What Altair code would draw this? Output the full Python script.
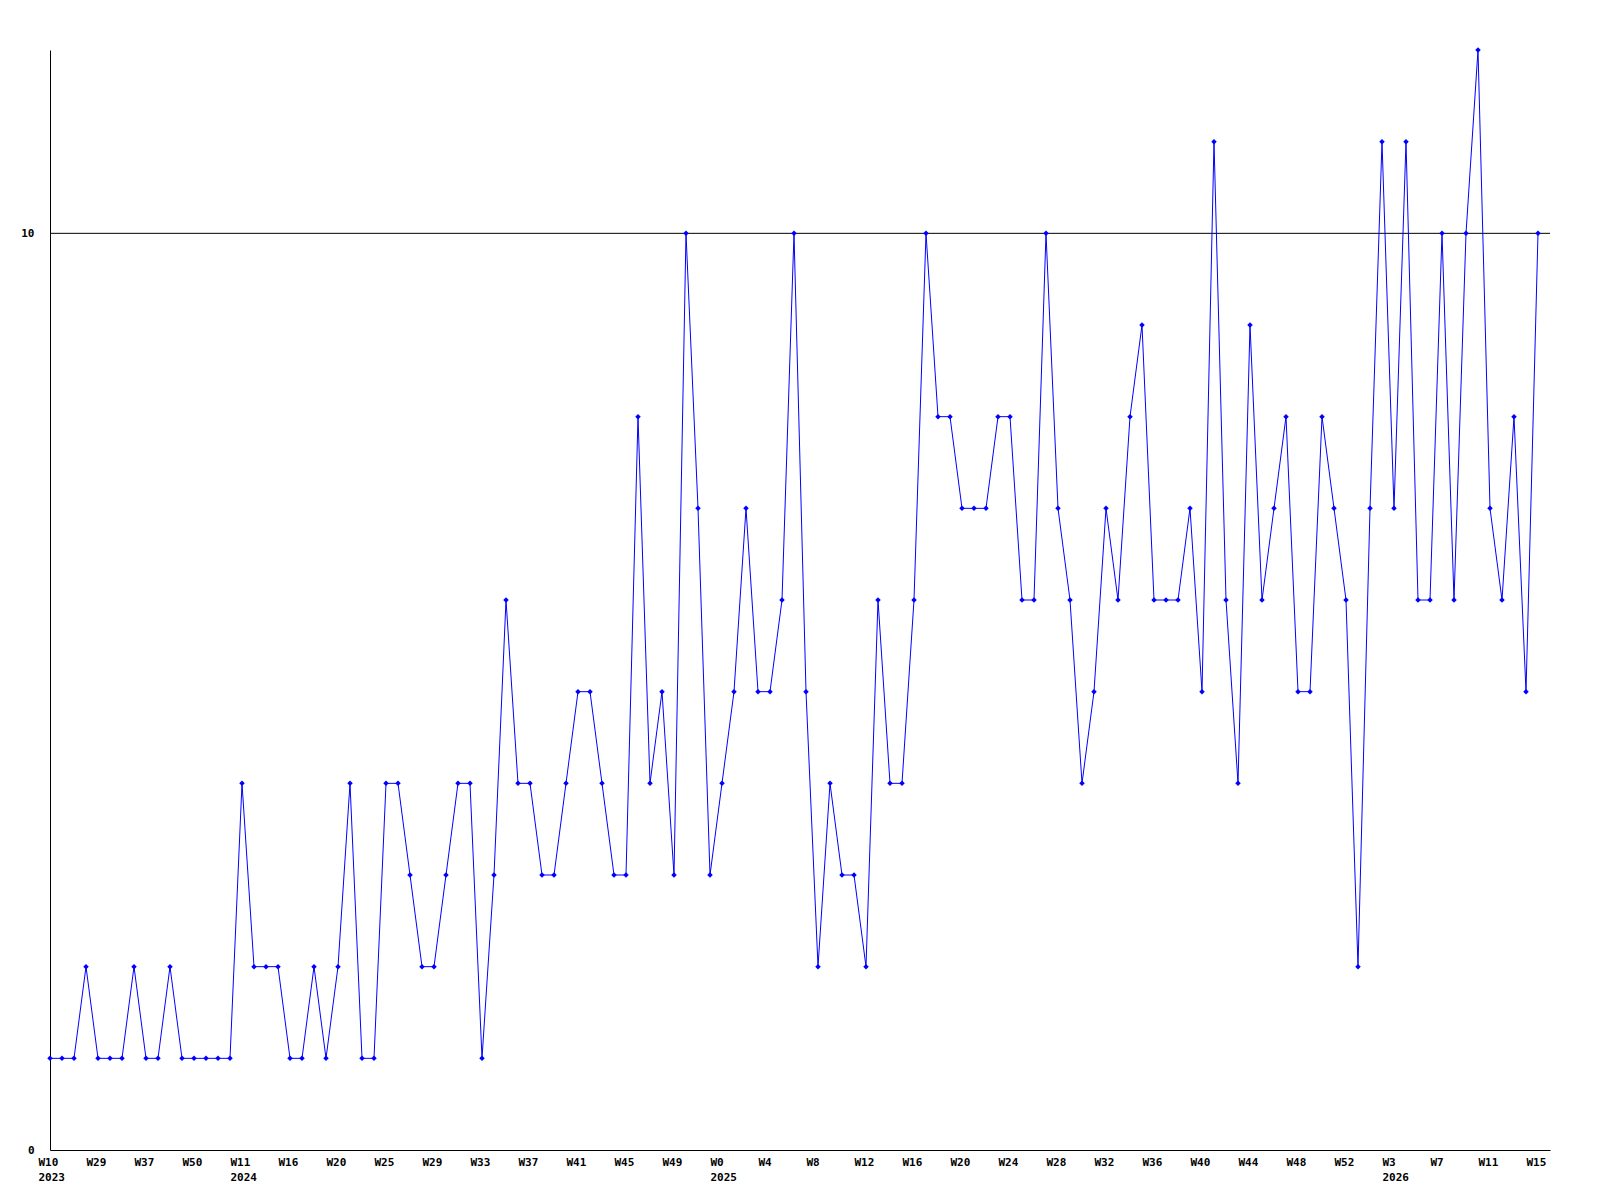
import json
import altair as alt
import pandas as pd

# Weekly values (one per plotted week, in order)
values = [
    1, 1, 1, 2, 1, 1, 1, 2, 1, 1,
    2, 1, 1, 1, 1, 1, 4, 2, 2, 2,
    1, 1, 2, 1, 2, 4, 1, 1, 4, 4,
    3, 2, 2, 3, 4, 4, 1, 3, 6, 4,
    4, 3, 3, 4, 5, 5, 4, 3, 3, 8,
    4, 5, 3, 10, 7, 3, 4, 5, 7, 5,
    5, 6, 10, 5, 2, 4, 3, 3, 2, 6,
    4, 4, 6, 10, 8, 8, 7, 7, 7, 8,
    8, 6, 6, 10, 7, 6, 4, 5, 7, 6,
    8, 9, 6, 6, 6, 7, 5, 11, 6, 4,
    9, 6, 7, 8, 5, 5, 8, 7, 6, 2,
    7, 11, 7, 11, 6, 6, 10, 6, 10, 12,
    7, 6, 8, 5, 10,
]

# Tick labels (every 4th plotted week)
week_labels = ["W10", "W29", "W37", "W50", "W11", "W16", "W20", "W25", "W29", "W33",
               "W37", "W41", "W45", "W49", "W0", "W4", "W8", "W12", "W16", "W20",
               "W24", "W28", "W32", "W36", "W40", "W44", "W48", "W52", "W3", "W7",
               "W11", "W15"]
year_labels = ["2023", "", "", "", "2024", "", "", "", "", "",
               "", "", "", "", "2025", "", "", "", "", "",
               "", "", "", "", "", "", "", "", "2026", "",
               "", ""]

reference_value = [10]

df = pd.DataFrame({"idx": list(range(len(values))), "value": values})
ref_df = pd.DataFrame({"ref": reference_value})

label_list = [[w, y] if y else w for w, y in zip(week_labels, year_labels)]
label_expr = json.dumps(label_list) + "[round(datum.value / 4)]"

FONT = "DejaVu Sans Mono"

x_enc = alt.X(
    "idx:Q",
    scale=alt.Scale(domain=[0, 125], nice=False, zero=False),
    axis=alt.Axis(
        values=list(range(0, len(values), 4)),
        labelExpr=label_expr,
        title=None,
        grid=False,
        ticks=False,
        tickSize=0,
        labelAlign="left",
        labelBaseline="top",
        labelOffset=-12,
        labelFlush=False,
        labelOverlap=False,
        labelFont=FONT,
        labelFontWeight="bold",
        labelFontSize=11,
        labelColor="black",
        labelPadding=6,
        labelLineHeight=15,
        domainColor="black",
        domainWidth=1,
    ),
)

y_enc = alt.Y(
    "value:Q",
    scale=alt.Scale(domain=[0, 12], nice=False, zero=True),
    axis=alt.Axis(
        values=[0, 10],
        format="d",
        title=None,
        grid=False,
        ticks=False,
        tickSize=0,
        labelPadding=16,
        labelFont=FONT,
        labelFontWeight="bold",
        labelFontSize=11,
        labelColor="black",
        domainColor="black",
        domainWidth=1,
    ),
)

base = alt.Chart(df)

rule = alt.Chart(ref_df).mark_rule(color="black", strokeWidth=1).encode(
    y=alt.Y("ref:Q", scale=alt.Scale(domain=[0, 12], nice=False))
)

line = base.mark_line(color="#0000ff", strokeWidth=1, interpolate="linear").encode(
    x=x_enc, y=y_enc
)

points = base.mark_point(
    shape="diamond", filled=True, color="#0000ff", size=30, opacity=1
).encode(x=x_enc, y=y_enc)

chart = (
    alt.layer(rule, line, points)
    .properties(
        width=1500,
        height=1100,
        autosize=alt.AutoSizeParams(type="none"),
        padding={"left": 42, "top": 42, "right": 40, "bottom": 60},
        background="white",
    )
    .configure_view(stroke=None)
)

chart.save("out.html", embed_options={"renderer": "svg", "actions": False})
